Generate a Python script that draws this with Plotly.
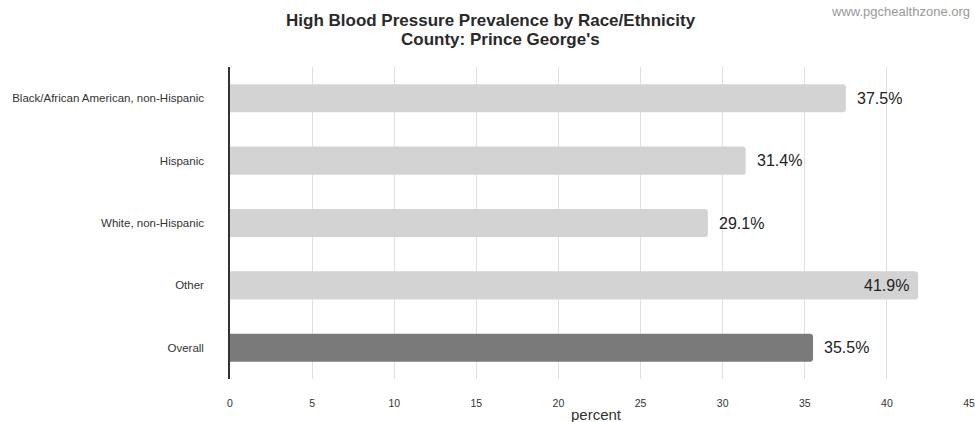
import plotly.graph_objects as go

# Prevalence of high blood pressure by race/ethnicity, Prince George's County
groups = [
    "Black/African American, non-Hispanic",
    "Hispanic",
    "White, non-Hispanic",
    "Other",
    "Overall",
]
prevalence = [37.5, 31.4, 29.1, 41.9, 35.5]
x_ticks = [0, 5, 10, 15, 20, 25, 30, 35, 40, 45]

FONT = "Liberation Sans, Arial, Helvetica, sans-serif"
bar_colors = ["#7a7a7a" if g == "Overall" else "#d3d3d3" for g in groups]

PLOT_W = 975 - 230 - 6  # approximate plot area width in px, for paper annotations

fig = go.Figure(
    go.Bar(
        x=prevalence,
        y=groups,
        orientation="h",
        marker=dict(color=bar_colors, cornerradius=3, line=dict(width=0)),
        width=0.45,
        hoverinfo="skip",
    )
)

# value labels: outside the bar end, except the longest bar which holds it inside
value_labels = []
longest = max(prevalence)
for g, v in zip(groups, prevalence):
    inside = v == longest
    value_labels.append(dict(
        text=f"{v:.1f}%", x=v, y=g, xref="x", yref="y",
        xanchor="right" if inside else "left",
        xshift=-7 if inside else 9,
        showarrow=False,
        font=dict(family=FONT, size=16, color="#222222"),
    ))

fig.update_layout(
    width=975,
    height=422,
    margin=dict(l=230, r=0, t=67, b=43),
    paper_bgcolor="white",
    plot_bgcolor="white",
    showlegend=False,
    font=dict(family=FONT, color="#333333"),
    xaxis=dict(
        range=[0, 45],
        tickvals=x_ticks,
        ticktext=[str(t) for t in x_ticks],
        showgrid=True,
        gridcolor="#e0e0e0",
        gridwidth=1,
        zeroline=False,
        showline=False,
        tickfont=dict(size=10.5, color="#333333"),
        ticks="outside",
        ticklen=14,
        tickcolor="rgba(0,0,0,0)",
        ticklabeloverflow="allow",
        fixedrange=True,
    ),
    yaxis=dict(
        autorange="reversed",
        showgrid=False,
        showline=True,
        linecolor="#333333",
        linewidth=1.5,
        ticks="outside",
        ticklen=22,
        tickcolor="rgba(0,0,0,0)",
        tickfont=dict(size=11.5, color="#333333"),
        fixedrange=True,
    ),
    annotations=value_labels + [
        dict(
            text="<b>High Blood Pressure Prevalence by Race/Ethnicity</b>",
            x=(491 - 230) / PLOT_W, y=1 + (67 - 20) / 312,
            xref="paper", yref="paper", xanchor="center", yanchor="middle",
            showarrow=False, font=dict(size=17, color="#2a2a2a"),
        ),
        dict(
            text="<b>County: Prince George's</b>",
            x=(500 - 230) / PLOT_W, y=1 + (67 - 39) / 312,
            xref="paper", yref="paper", xanchor="center", yanchor="middle",
            showarrow=False, font=dict(size=17, color="#2a2a2a"),
        ),
        dict(
            text="www.pgchealthzone.org",
            x=(972 - 230) / PLOT_W, y=1 + (67 - 12) / 312,
            xref="paper", yref="paper", xanchor="right", yanchor="middle",
            showarrow=False, font=dict(size=13, color="#9a9a9a"),
        ),
        dict(
            text="percent",
            x=(596 - 230) / PLOT_W, y=0, xref="paper", yref="paper",
            xanchor="center", yanchor="middle", yshift=-35,
            showarrow=False, font=dict(size=15, color="#333333"),
        ),
    ],
)

fig.write_html("out.html")
